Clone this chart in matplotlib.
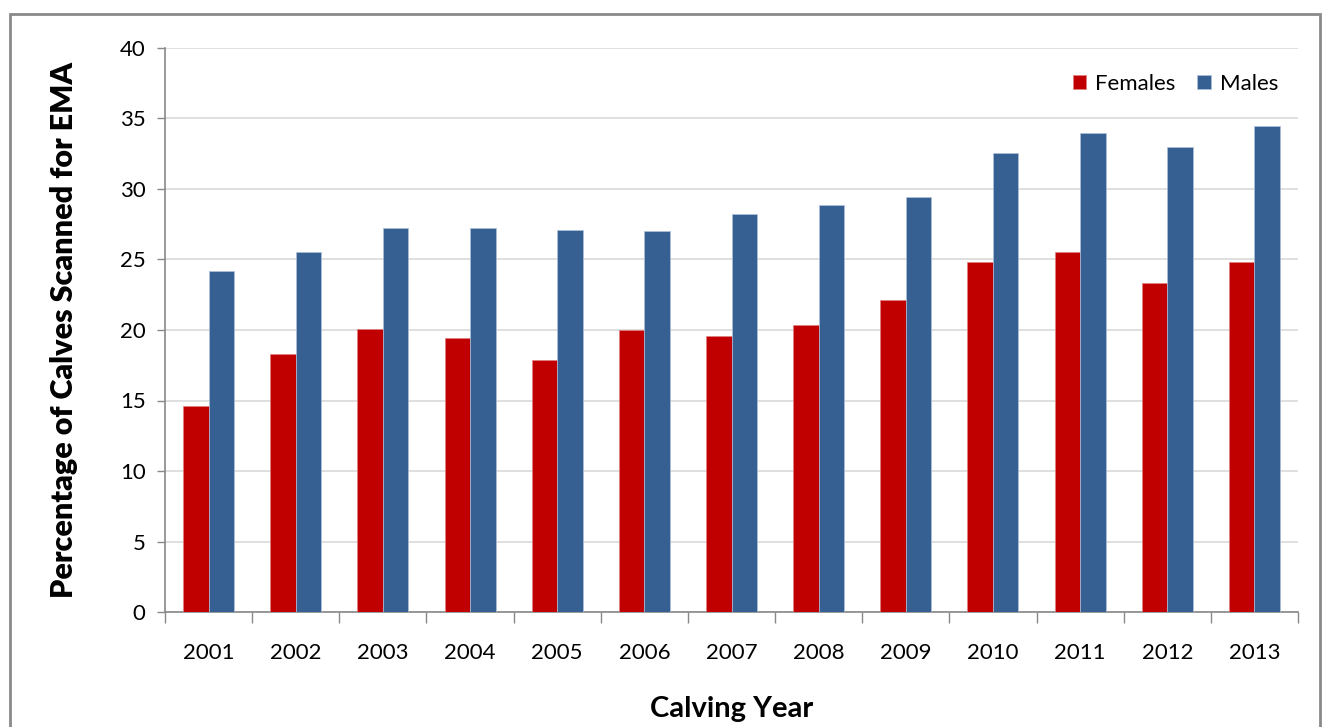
import numpy as np
import matplotlib.pyplot as plt
from matplotlib.patches import Rectangle

years = ['2001', '2002', '2003', '2004', '2005', '2006', '2007',
         '2008', '2009', '2010', '2011', '2012', '2013']
females = [14.6, 18.3, 20.1, 19.45, 17.85, 20.0, 19.6, 20.35, 22.1, 24.8, 25.5, 23.3, 24.8]
males = [24.2, 25.55, 27.2, 27.2, 27.1, 27.0, 28.25, 28.9, 29.4, 32.55, 34.0, 33.0, 34.45]

plt.rcParams['font.family'] = ['Lato', 'DejaVu Sans']

fig = plt.figure(figsize=(13.25, 7.27), dpi=100)
ax = fig.add_axes([165 / 1325, 1 - 612 / 727, (1298 - 165) / 1325, (612 - 48) / 727])

# рамка вокруг всей диаграммы
fig.patches.append(Rectangle((10 / 1325, -0.05), 1310 / 1325, 1 - 14 / 727 + 0.05,
                             transform=fig.transFigure, fill=False,
                             edgecolor='#8a8a8a', linewidth=2))

x = np.arange(len(years))
w = 0.293
ax.bar(x - w / 2, females, w, color='#C00000', edgecolor='#e08080', linewidth=0.5,
       label='Females', zorder=3)
ax.bar(x + w / 2, males, w, color='#366092', edgecolor='#b0c0d8', linewidth=0.5,
       label='Males', zorder=3)

ax.set_xlim(-0.5, len(years) - 0.5)
ax.set_ylim(0, 40)
ax.set_yticks(np.arange(0, 41, 5))
ax.yaxis.grid(True, color='#d9d9d9', linewidth=1.2, zorder=0)
ax.set_axisbelow(True)

ax.set_xticks(x)
ax.set_xticklabels(years, fontsize=16)
ax.set_xticks(np.arange(-0.5, len(years)), minor=True)
ax.tick_params(axis='x', which='major', length=0, pad=22)
ax.tick_params(axis='x', which='minor', length=8, color='#888888', width=1)
ax.tick_params(axis='y', length=6, color='#888888', width=1, labelsize=16, pad=8)

for side in ['top', 'right']:
    ax.spines[side].set_visible(False)
for side in ['left', 'bottom']:
    ax.spines[side].set_color('#888888')
    ax.spines[side].set_linewidth(1.2)

ax.set_xlabel('Calving Year', fontsize=21, fontweight='bold', labelpad=24)
ax.set_ylabel('Percentage of Calves Scanned for EMA', fontsize=22, fontweight='heavy', labelpad=30)

ax.legend(loc='upper right', ncol=2, frameon=False, fontsize=16,
          handlelength=0.6, handleheight=0.6, handletextpad=0.4, columnspacing=1.0,
          bbox_to_anchor=(1.0, 0.99))

fig.savefig('out.png', dpi=100)
